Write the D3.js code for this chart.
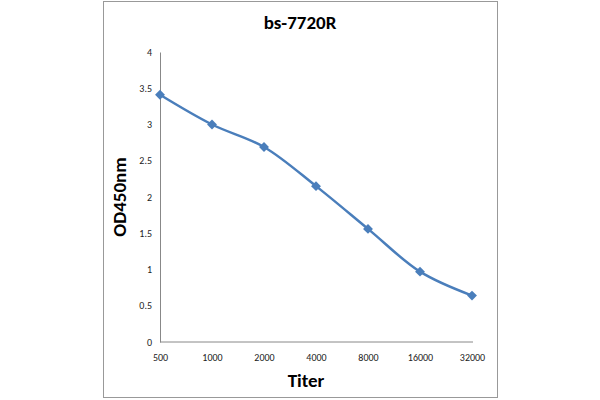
<!DOCTYPE html><html><head><script src="https://cdn.jsdelivr.net/npm/d3@7"></script>
<style>body{margin:0;background:#fff}</style></head><body><svg width="600" height="400"></svg>
<script>
const categories=["500","1000","2000","4000","8000","16000","32000"];
const values=[3.41,3.0,2.69,2.15,1.56,0.97,0.64];
const yTicks=[0,0.5,1,1.5,2,2.5,3,3.5,4];
const svg=d3.select("svg");
const font="Calibri, Carlito, 'Liberation Sans', Arial, sans-serif";
svg.append("rect").attr("x",103.5).attr("y",1.5).attr("width",394).attr("height",396).attr("fill","#fff").attr("stroke","#999");
const x=d3.scalePoint().domain(categories).range([160,472]);
const y=d3.scaleLinear().domain([0,4]).range([342,52]);
const ya=svg.append("g").attr("transform","translate(160,0)").call(d3.axisLeft(y).tickValues(yTicks).tickSize(0).tickPadding(8).tickFormat(d=>d));
ya.select(".domain").attr("stroke","#888");
ya.selectAll("text").attr("font-family",font).attr("font-size",10).attr("fill","#222");
const xa=svg.append("g").attr("transform","translate(0,342)").call(d3.axisBottom(x).tickSize(0).tickPadding(12));
xa.select(".domain").attr("d","M160,0H473").attr("stroke","#888");
xa.selectAll("text").attr("font-family",font).attr("font-size",10).attr("fill","#222");
const pts=categories.map((c,i)=>[x(c),y(values[i])]);
svg.append("path").attr("d",d3.line().curve(d3.curveCatmullRom.alpha(0.5))(pts)).attr("fill","none").attr("stroke","#4a7ebb").attr("stroke-width",2.5);
svg.selectAll(".m").data(pts).enter().append("rect").attr("x",-3.5).attr("y",-3.5).attr("width",7).attr("height",7)
  .attr("transform",d=>`translate(${d[0]},${d[1]}) rotate(45)`).attr("fill","#4a7ebb");
svg.append("text").attr("x",300).attr("y",29).attr("text-anchor","middle").attr("font-family",font).attr("font-weight","bold").attr("font-size",19).text("bs-7720R");
svg.append("text").attr("x",306).attr("y",387).attr("text-anchor","middle").attr("font-family",font).attr("font-weight","bold").attr("font-size",19).text("Titer");
svg.append("text").attr("transform","translate(126,197) rotate(-90)").attr("text-anchor","middle").attr("font-family",font).attr("font-weight","bold").attr("font-size",19).text("OD450nm");
</script></body></html>
